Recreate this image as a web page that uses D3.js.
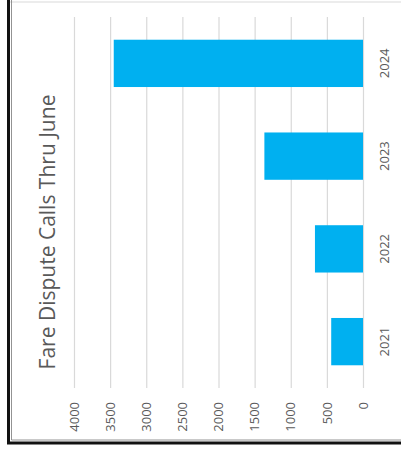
<!DOCTYPE html>
<html>
<head>
<meta charset="utf-8">
<script src="https://cdn.jsdelivr.net/npm/d3@7"></script>
<style>
  body { margin: 0; background: #fff; }
  svg { display: block; }
  text { font-family: "Open Sans", sans-serif; fill: #595959; }
</style>
</head>
<body>
<div id="chart"></div>
<script>
var TITLE = "Fare Dispute Calls Thru June";
var years = ["2021", "2022", "2023", "2024"];
var calls = [440, 665, 1365, 3450];
var valueTicks = [0, 500, 1000, 1500, 2000, 2500, 3000, 3500, 4000];

var BAR_COLOR = "#00B0F0";
var GRID_COLOR = "#D9D9D9";

var W = 401, H = 455;

var svg = d3.select("#chart").append("svg")
    .attr("width", W).attr("height", H);

// frame round the picture
svg.append("line").attr("x1", 10).attr("x2", W).attr("y1", 2).attr("y2", 2)
    .attr("stroke", "#e6e6e6").attr("stroke-width", 1.5);
svg.append("path")
    .attr("d", "M8.5,0 V443 H" + W)
    .attr("fill", "none").attr("stroke", "#111").attr("stroke-width", 3);
svg.append("path")
    .attr("d", "M11.5,0 V440 H" + W)
    .attr("fill", "none").attr("stroke", "#777").attr("stroke-width", 0.8);

// the chart is an ordinary column chart turned a quarter turn
// inside g: u = H - screenY, v = screenX
var g = svg.append("g").attr("transform", "translate(0," + H + ") rotate(-90)");

var x = d3.scaleBand().domain(years).range([67, 438])
    .paddingInner(0.49).paddingOuter(0.245);
var y = d3.scaleLinear().domain([0, 4000]).range([363, 74]);

// gridlines
g.append("g").selectAll("line").data(valueTicks).join("line")
    .attr("x1", 67).attr("x2", 438)
    .attr("y1", function(d){ return y(d) + 0.5; })
    .attr("y2", function(d){ return y(d) + 0.5; })
    .attr("stroke", GRID_COLOR).attr("stroke-width", 1.2);

// bars
g.append("g").selectAll("rect").data(years).join("rect")
    .attr("x", function(d){ return x(d); })
    .attr("width", x.bandwidth())
    .attr("y", function(d, i){ return y(calls[i]); })
    .attr("height", function(d, i){ return y(0) - y(calls[i]); })
    .attr("fill", BAR_COLOR);

// value axis
var yAxis = g.append("g").attr("transform", "translate(67,0)")
    .call(d3.axisLeft(y).tickValues(valueTicks).tickFormat(d3.format("d"))
        .tickSize(0).tickPadding(14));
yAxis.select(".domain").remove();
yAxis.selectAll("text").style("font-size", "13px").style("fill", "#595959")
    .style("font-family", "'Open Sans', sans-serif");

// category axis
var xAxis = g.append("g").attr("transform", "translate(0,363)")
    .call(d3.axisBottom(x).tickSize(0).tickPadding(17));
xAxis.select(".domain").remove();
xAxis.selectAll("text").style("font-size", "13px").style("fill", "#595959")
    .style("font-family", "'Open Sans', sans-serif");

// title
g.append("text")
    .attr("x", 223).attr("y", 55)
    .attr("text-anchor", "middle")
    .style("font-size", "21px")
    .text(TITLE);
</script>
</body>
</html>
